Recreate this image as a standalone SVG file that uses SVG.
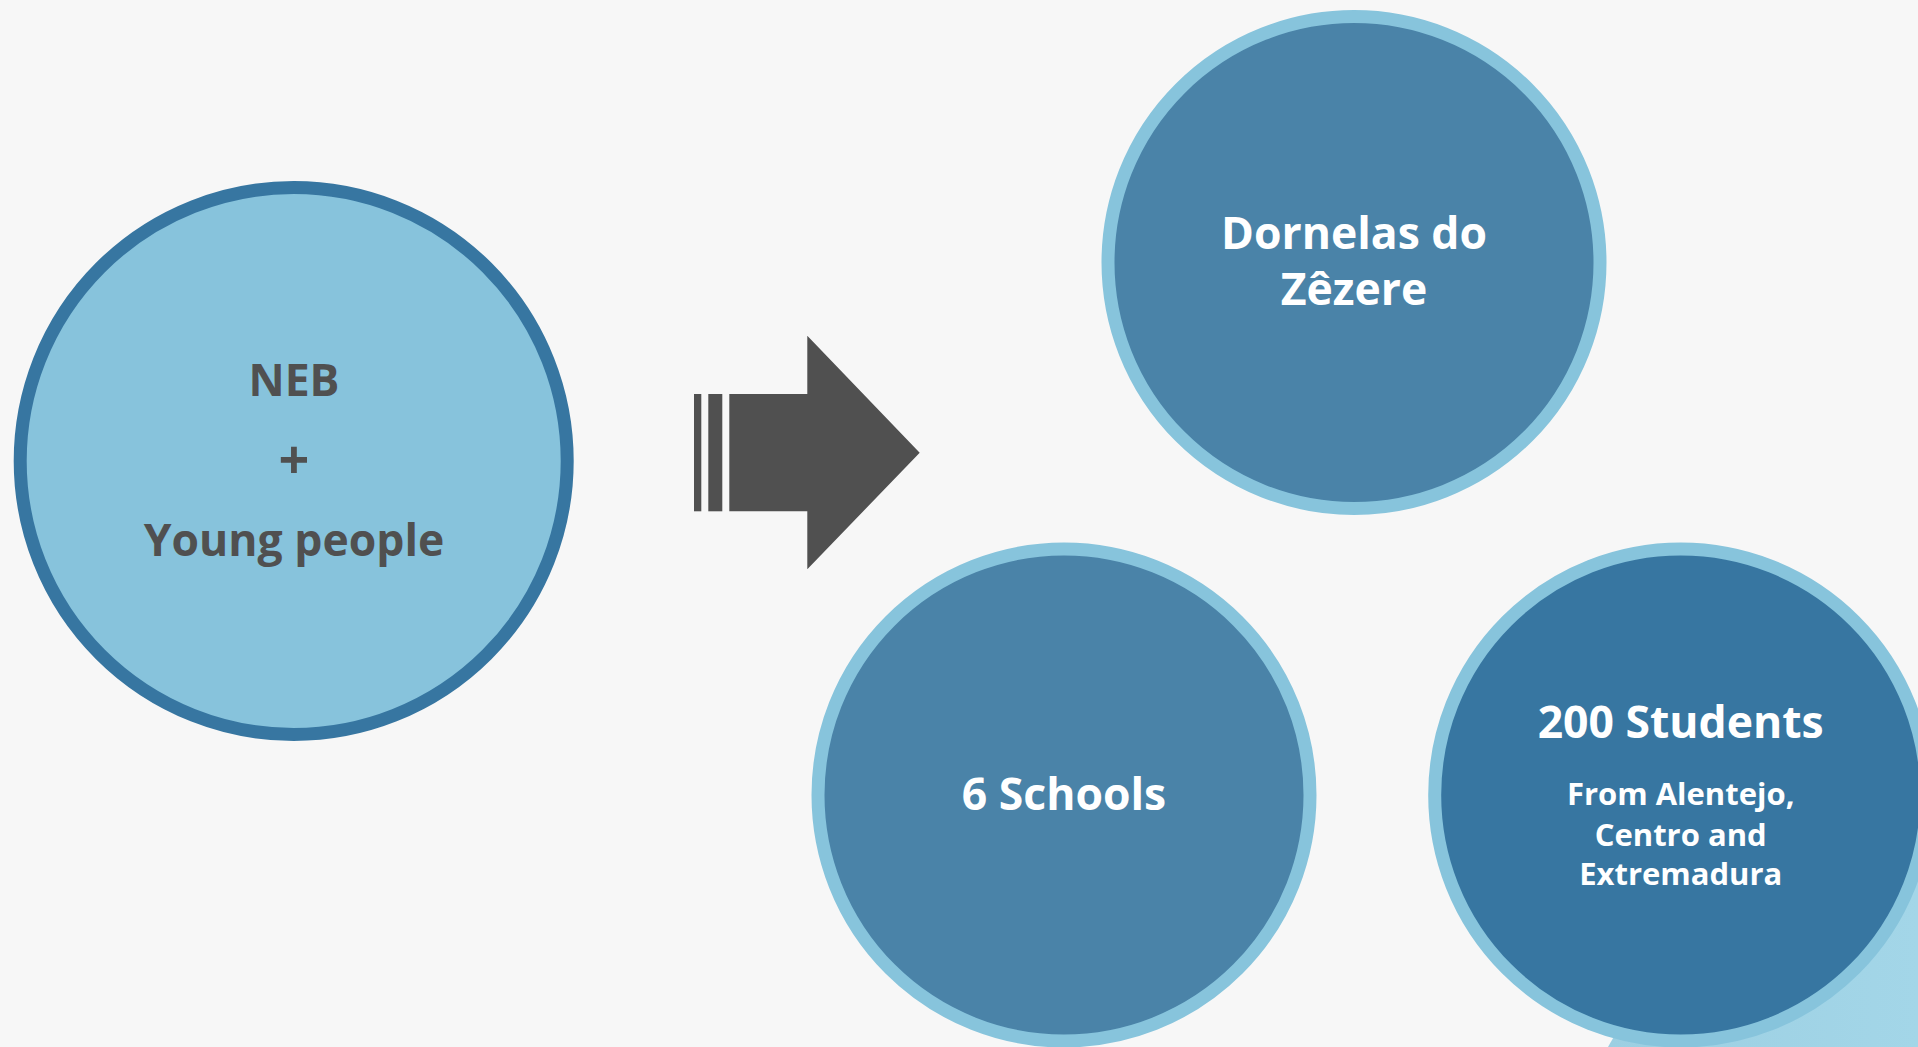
<svg xmlns="http://www.w3.org/2000/svg" width="1918" height="1047" viewBox="0 0 1918 1047">
<defs>
<style>
.bg{fill:#F7F7F7}
.c-left{fill:#87C3DC;stroke:#3776A1;stroke-width:13}
.c-mid{fill:#4A83A8;stroke:#87C4DC;stroke-width:13}
.c-dark{fill:#3776A1;stroke:#87C4DC;stroke-width:13}
.t{font-family:"Open Sans","Noto Sans","Liberation Sans",sans-serif;font-weight:700;text-anchor:middle}
.t-main{font-size:44.5px}
.t-plus{font-size:54px}
.t-sub{font-size:31px}
.dark{fill:#505050}
.white{fill:#FFFFFF}
.arrow{fill:#505050}
</style>
<linearGradient id="deco" x1="0" y1="0" x2="1" y2="0">
<stop offset="0" stop-color="#9CCFE2"/>
<stop offset="1" stop-color="#A3D6E8"/>
</linearGradient>
</defs>
<rect class="bg" x="0" y="0" width="1918" height="1047"/>
<polygon points="1608,1047 1720,850 1918,850 1918,1047" fill="url(#deco)"/>
<g id="connectors">
<rect class="arrow" x="694" y="394" width="7.3" height="117.3"/>
<rect class="arrow" x="708.3" y="394" width="14" height="117.3"/>
<polygon class="arrow" points="729.3,394 807.3,394 807.3,335.7 919.7,452.7 807.3,569.3 807.3,511.3 729.3,511.3"/>
</g>
<g id="node-neb">
<circle class="c-left" cx="293.7" cy="461" r="273.5"/>
<text class="t t-main dark" x="294" y="396">NEB</text>
<text class="t t-plus dark" x="294" y="479">+</text>
<text class="t t-main dark" x="294" y="556">Young people</text>
</g>
<g id="node-dornelas">
<circle class="c-mid" cx="1354" cy="262.5" r="246"/>
<text class="t t-main white" x="1354" y="248.5">Dornelas do</text>
<text class="t t-main white" x="1354" y="305">Zêzere</text>
</g>
<g id="node-schools">
<circle class="c-mid" cx="1064" cy="795" r="246"/>
<text class="t t-main white" x="1064" y="810">6 Schools</text>
</g>
<g id="node-students">
<circle class="c-dark" cx="1680.7" cy="795" r="246"/>
<text class="t t-main white" x="1680.7" y="738">200 Students</text>
<text class="t t-sub white" x="1680.7" y="805">From Alentejo,</text>
<text class="t t-sub white" x="1680.7" y="846">Centro and</text>
<text class="t t-sub white" x="1680.7" y="885">Extremadura</text>
</g>
</svg>
